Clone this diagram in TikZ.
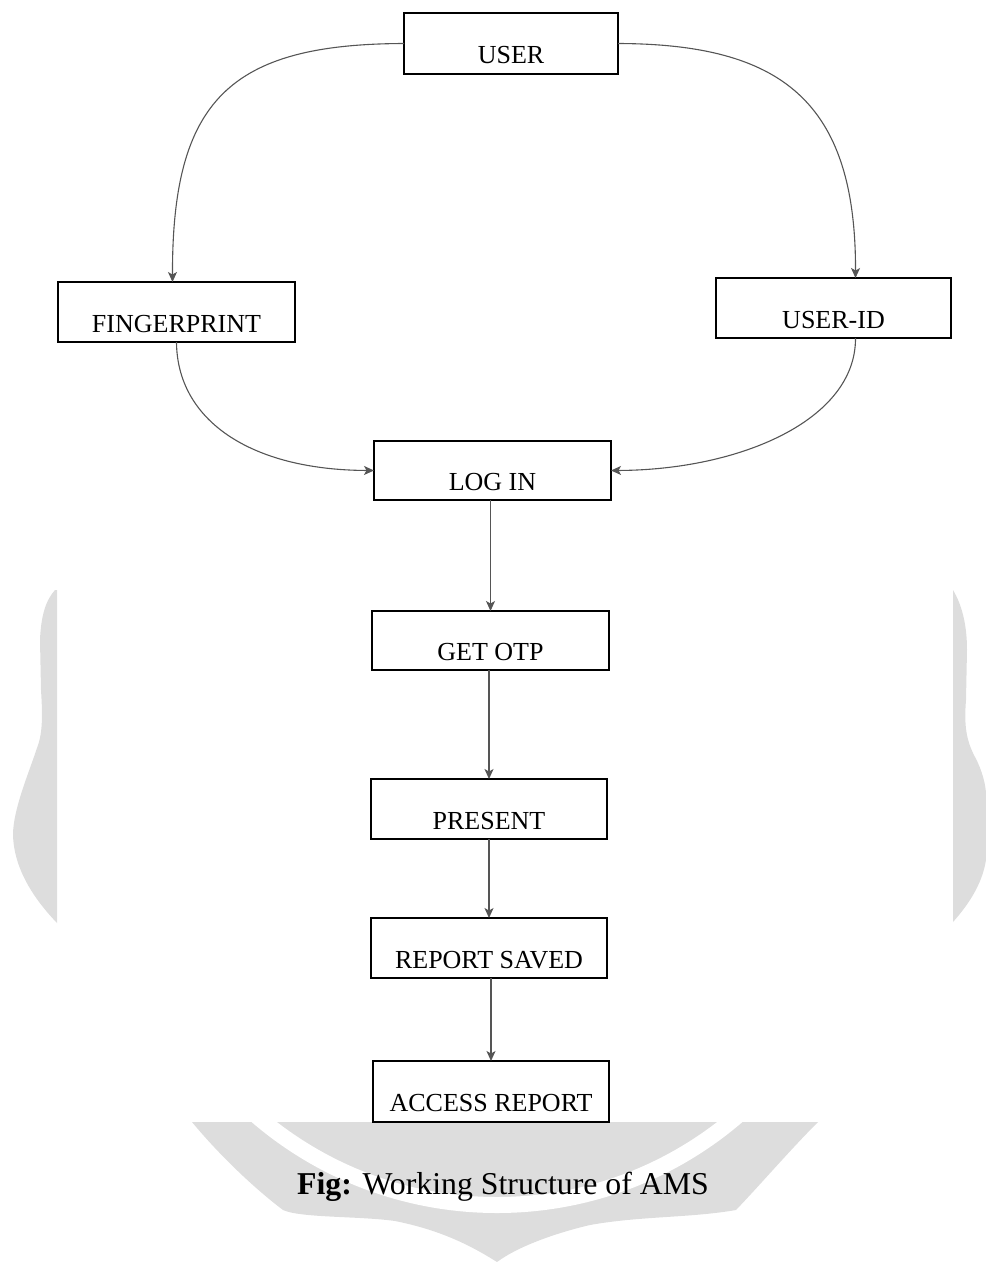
\documentclass[tikz,border=0pt]{standalone}
\usepackage{fontspec}
\setmainfont{Liberation Serif}
\usetikzlibrary{arrows.meta}
\definecolor{wm}{RGB}{221,221,221}
\definecolor{ln}{RGB}{85,85,85}
\begin{document}
\begin{tikzpicture}[x=1pt,y=-1pt,
  stepbox/.style={draw=black,line width=2.9pt,inner sep=0pt,outer sep=0pt,
    minimum width=236pt,minimum height=60pt},
  lbl/.style={yshift=-12pt,font=\fontsize{26}{30}\selectfont,inner sep=0pt},
  conn/.style={draw=ln,line width=1.1pt,-{Stealth[length=10pt,width=9pt,inset=2.5pt]}}]
\useasboundingbox (0,0) rectangle (986,1262);
% watermark remnants
\fill[wm] (55,590) .. controls (46,600) and (41,615) .. (40,640)
  -- (41,690) .. controls (43,720) and (42,735) .. (37,748)
  .. controls (28,775) and (13,810) .. (13,835)
  .. controls (14,870) and (35,900) .. (57,923) -- (57,590) -- cycle;
\fill[wm] (953,590) .. controls (962,605) and (967,625) .. (967,650)
  -- (966,700) .. controls (964,725) and (966,740) .. (975,757)
  .. controls (982,770) and (986,785) .. (986,795) -- (986,860)
  .. controls (982,885) and (968,905) .. (953,922) -- cycle;
\begin{scope}
\path[clip] (192,1122) .. controls (215,1150) and (250,1185) .. (283,1210)
  .. controls (300,1218) and (360,1216) .. (395,1221)
  .. controls (440,1230) and (470,1245) .. (497,1262)
  .. controls (520,1245) and (560,1232) .. (590,1225)
  .. controls (640,1216) and (690,1218) .. (736,1210)
  .. controls (760,1185) and (790,1150) .. (818,1122) -- cycle;
\fill[wm] (150,1122) rectangle (850,1262);
\draw[white,line width=16pt] (497,836.5) circle[radius=368.5pt];
\end{scope}
% boxes
\node[stepbox,minimum width=214pt,minimum height=61pt,label={[lbl]center:USER}] (user) at (511,43.5) {};
\node[stepbox,minimum width=237pt,label={[lbl]center:FINGERPRINT}] (fp) at (176.5,312) {};
\node[stepbox,minimum width=235pt,label={[lbl]center:USER-ID}] (uid) at (833.5,308) {};
\node[stepbox,minimum width=237pt,minimum height=59pt,label={[lbl]center:LOG IN}] (login) at (492.5,470.5) {};
\node[stepbox,minimum width=237pt,minimum height=59pt,label={[lbl]center:GET OTP}] (otp) at (490.5,640.5) {};
\node[stepbox,label={[lbl]center:PRESENT}] (present) at (489,809) {};
\node[stepbox,label={[lbl]center:REPORT SAVED}] (saved) at (489,948) {};
\node[stepbox,minimum height=61pt,label={[lbl]center:ACCESS REPORT}] (access) at (491,1091.5) {};
% connectors
\draw[conn] (user.west) .. controls (230,44) and (172,100) .. ([xshift=-4pt]fp.north);
\draw[conn] (user.east) .. controls (780,44) and (856,100) .. ([xshift=22pt]uid.north);
\draw[conn] (fp.south) .. controls (177,420) and (250,470) .. (login.west);
\draw[conn] ([xshift=22pt]uid.south) .. controls (856,420) and (740,470) .. (login.east);
\draw[conn] (login.south -| otp.north) -- (otp.north);
\draw[conn] (otp.south -| present.north) -- (present.north);
\draw[conn] (present.south) -- (saved.north);
\draw[conn] (saved.south -| access.north) -- (access.north);
% caption
\node[inner sep=0pt,font=\fontsize{31.8}{38}\selectfont] (cap) at (503,1187) {\textbf{Fig:} Working Structure of AMS};
\end{tikzpicture}
\end{document}
